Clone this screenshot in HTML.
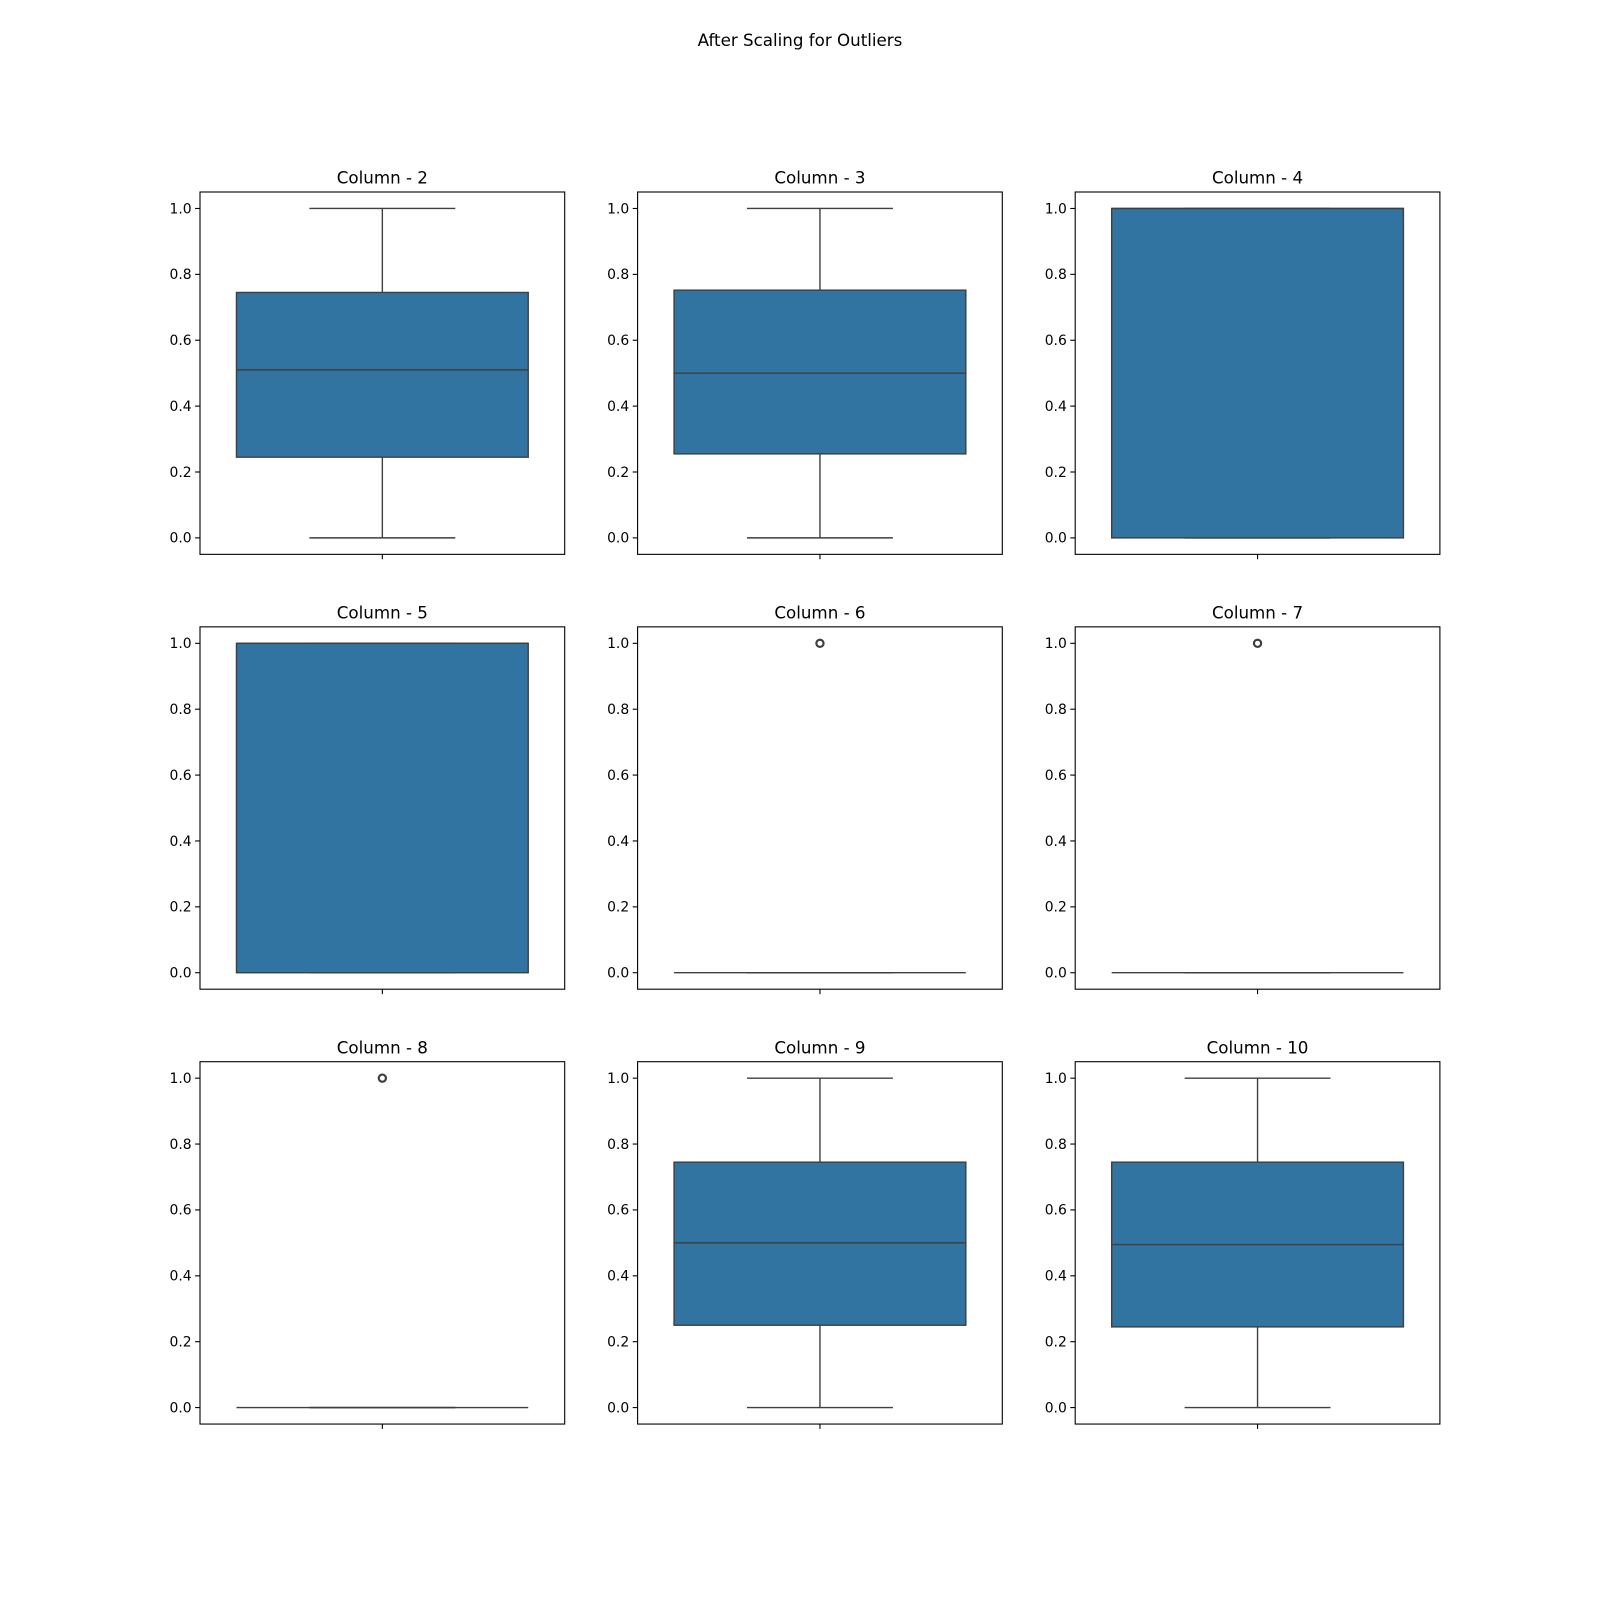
<!DOCTYPE html>
<html><head><meta charset="utf-8"><style>
html,body{margin:0;padding:0;background:#fff;}
svg{display:block;font-family:"DejaVu Sans","Liberation Sans",sans-serif;}
</style></head><body>
<svg id="chart" width="1600" height="1600" viewBox="0 0 1600 1600">
<text x="800" y="46" text-anchor="middle" font-size="16.7" fill="#000">After Scaling for Outliers</text>
</svg>
<script>
const titles = ["Column - 2","Column - 3","Column - 4","Column - 5","Column - 6","Column - 7","Column - 8","Column - 9","Column - 10"];
const q1s = [0.245,0.255,0,0,0,0,0,0.25,0.245];
const medians = [0.51,0.50,1,1,0,0,0,0.50,0.495];
const q3s = [0.745,0.752,1,1,0,0,0,0.745,0.745];
const whiskLo = [0,0,0,0,0,0,0,0,0];
const whiskHi = [1,1,1,1,0,0,0,1,1];
const outliers = [[],[],[],[],[1],[1],[1],[],[]];
const yTicks = [0,0.2,0.4,0.6,0.8,1.0];
const yTickLabels = ["0.0","0.2","0.4","0.6","0.8","1.0"];

const NS="http://www.w3.org/2000/svg";
const svg=document.getElementById('chart');
function mk(tag,attrs,parent){const e=document.createElementNS(NS,tag);for(const k in attrs)e.setAttribute(k,attrs[k]);(parent||svg).appendChild(e);return e;}
const W=364.7,H=362.35,gx=72.9,gy=72.5,L=200,T=192;
const LC="#3f3f3f";
for(let i=0;i<titles.length;i++){
  const r=Math.floor(i/3),c=i%3;
  const x0=L+c*(W+gx), y0=T+r*(H+gy);
  const g=mk('g',{});
  
  
  const ys=v=>y0+H-(v+0.05)/1.1*H;
  const xs=f=>x0+f*W;
  const t=mk('text',{x:x0+W/2,y:y0-8.3,'text-anchor':'middle','font-size':16.7,fill:'#000'},g);
  t.textContent=titles[i];
  
  
  if(whiskHi[i]>q3s[i]||whiskHi[i]>0){
    const w1=mk('line',{x1:xs(0.5),x2:xs(0.5),y1:ys(q3s[i]),y2:ys(whiskHi[i]),stroke:LC,'stroke-width':1.4},g);
    
    
    const w2=mk('line',{x1:xs(0.5),x2:xs(0.5),y1:ys(q1s[i]),y2:ys(whiskLo[i]),stroke:LC,'stroke-width':1.4},g);
    
    
  }
  const c1=mk('line',{x1:xs(0.3),x2:xs(0.7),y1:ys(whiskHi[i]),y2:ys(whiskHi[i]),stroke:LC,'stroke-width':1.4},g);
  
  
  const c2=mk('line',{x1:xs(0.3),x2:xs(0.7),y1:ys(whiskLo[i]),y2:ys(whiskLo[i]),stroke:LC,'stroke-width':1.4},g);
  
  
  const b=mk('rect',{x:xs(0.1),y:ys(q3s[i]),width:W*0.8,height:Math.max(0,ys(q1s[i])-ys(q3s[i])),fill:'#3274a1',stroke:LC,'stroke-width':1.4},g);
  
  
  const m=mk('line',{x1:xs(0.1),x2:xs(0.9),y1:ys(medians[i]),y2:ys(medians[i]),stroke:LC,'stroke-width':1.4},g);
  
  
  for(const o of outliers[i]){
    const ci=mk('circle',{cx:xs(0.5),cy:ys(o),r:3.6,fill:'none',stroke:LC,'stroke-width':2.2},g);
    
    
  }
  const fr=mk('rect',{x:x0,y:y0,width:W,height:H,fill:'none',stroke:'#000','stroke-width':1.1},g);
  
  
  yTicks.forEach((v,k)=>{
    const tk=mk('line',{x1:x0-4.9,x2:x0,y1:ys(v),y2:ys(v),stroke:'#000','stroke-width':1.1},g);
    
    
    const tl=mk('text',{x:x0-8.4,y:ys(v)+4.8,'text-anchor':'end','font-size':13.9,fill:'#000'},g);
    tl.textContent=yTickLabels[k];
    
    
  });
  const xt=mk('line',{x1:xs(0.5),x2:xs(0.5),y1:y0+H,y2:y0+H+4.9,stroke:'#000','stroke-width':1.1},g);
  
  
}
</script>
</body></html>
